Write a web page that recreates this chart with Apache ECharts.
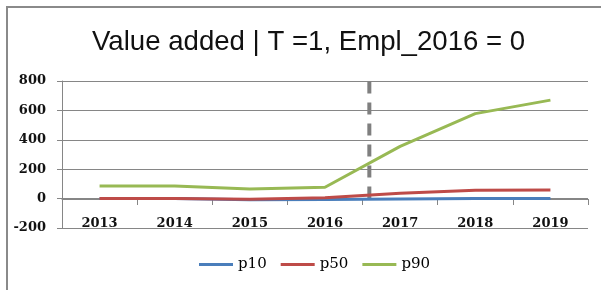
<!DOCTYPE html>
<html>
<head>
<meta charset="utf-8">
<script src="https://cdn.jsdelivr.net/npm/echarts@6/dist/echarts.min.js"></script>
<style>
  html, body { margin: 0; padding: 0; background: #fff; }
  #chart { width: 601px; height: 290px; }
</style>
</head>
<body>
<div id="chart"></div>
<script>
const years = ['2013', '2014', '2015', '2016', '2017', '2018', '2019'];
const p10 = [0, 0, -8, -6, -2, 0, 0];
const p50 = [0, 0, -4, 5, 36, 57, 58];
const p90 = [86, 85, 65, 77, 355, 578, 670];
// vertical dashed marker between 2016 and 2017 (index scale), from 0 up to just above 800
const markerX = [3.59, 3.59];
const markerY = [0, 826];

let chart = echarts.init(document.getElementById('chart'));

let labelFont = 'DejaVu Serif';

let option = {
  animation: false,
  title: {
    text: 'Value added | T =1, Empl_2016 = 0',
    left: 87,
    top: 23,
    textStyle: {
      fontFamily: 'Liberation Sans',
      fontWeight: 'normal',
      fontSize: 27.6,
      color: '#111'
    }
  },
  graphic: [{
    type: 'polyline',
    shape: { points: [[7, 290], [7, 7], [601, 7]] },
    style: { stroke: '#8a8a8a', lineWidth: 2, fill: null }
  }],
  legend: {
    data: ['p10', 'p50', 'p90'],
    bottom: 13,
    left: 194,
    icon: 'rect',
    itemWidth: 34,
    itemHeight: 3,
    itemGap: 14,
    textStyle: { fontFamily: labelFont, fontSize: 15, color: '#000' }
  },
  grid: { left: 62, right: 13, top: 81, bottom: 62 },
  xAxis: [{
    type: 'category',
    data: years,
    boundaryGap: true,
    // axis line sits on the value 0 (about 29px above the grid bottom)
    offset: -29,
    axisLine: { onZero: false, lineStyle: { color: '#868686', width: 1 } },
    axisTick: { show: true, length: 6, lineStyle: { color: '#868686' } },
    axisLabel: { margin: 18, fontFamily: labelFont, fontWeight: 'bold', fontSize: 13, color: '#111' }
  }, {
    type: 'value',
    min: -0.5,
    max: 6.5,
    show: false,
    axisLine: { onZero: false }
  }],
  yAxis: {
    type: 'value',
    min: -200,
    max: 800,
    interval: 200,
    axisLine: { show: true, onZero: false, lineStyle: { color: '#868686' } },
    axisTick: { show: true, length: 5, lineStyle: { color: '#868686' } },
    splitLine: { lineStyle: { color: '#868686', width: 1 } },
    axisLabel: { margin: 16, fontFamily: labelFont, fontWeight: 'bold', fontSize: 13, color: '#111' }
  },
  series: [
    {
      name: 'p10', type: 'line', data: p10, symbol: 'none',
      lineStyle: { color: '#4a7ebb', width: 3 }, itemStyle: { color: '#4a7ebb' }
    },
    {
      name: 'p50', type: 'line', data: p50, symbol: 'none',
      lineStyle: { color: '#be4b48', width: 3 }, itemStyle: { color: '#be4b48' }
    },
    {
      name: 'p90', type: 'line', data: p90, symbol: 'none',
      lineStyle: { color: '#98b954', width: 3 }, itemStyle: { color: '#98b954' }
    },
    {
      name: 'marker', type: 'line', xAxisIndex: 1, symbol: 'none', silent: true,
      data: markerX.map((x, i) => [x, markerY[i]]),
      lineStyle: { color: '#7f7f7f', width: 4, type: [12, 9] },
      z: 1
    }
  ]
};

chart.setOption(option);
</script>
</body>
</html>
